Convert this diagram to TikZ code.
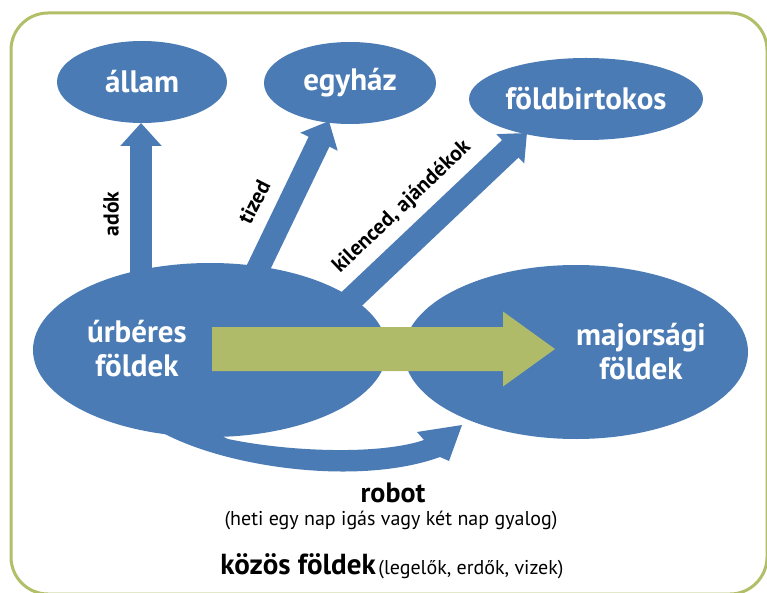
\documentclass[tikz,border=0pt]{standalone}
\usepackage{fontspec}
\setmainfont{PT Sans}
\usetikzlibrary{arrows.meta,shapes.geometric}
\definecolor{sblue}{RGB}{74,123,181}
\definecolor{solive}{RGB}{175,187,105}
\definecolor{sframe}{RGB}{178,190,104}
\begin{document}
\begin{tikzpicture}[x=1pt,y=-1pt,
  blob/.style={ellipse, fill=sblue, inner sep=0pt, inner xsep=-25pt, text=white, align=center,
    font=\bfseries\fontsize{31}{34}\selectfont},
  flow/.style={draw=sblue, line width=#1, -{Triangle[length=23pt,width=40pt]}},
  lbl/.style={font=\bfseries\fontsize{21.5}{22}\selectfont, text=black, inner sep=0pt}
]
\useasboundingbox (0,0) rectangle (767,593);
\draw[sframe, line width=3pt, rounded corners=37pt] (11,13) rectangle (767,594);
% connector end points
\coordinate (a0) at (141,290); \coordinate (a1) at (141,123);
\coordinate (t0) at (250,285); \coordinate (t1) at (329,121);
\coordinate (k0) at (340,310); \coordinate (k1) at (527,133);
% block arrows
\draw[flow=22pt] (a0) -- (a1);
\draw[flow=23pt] (t0) -- (t1);
\draw[flow=24pt, -{Triangle[length=23pt,width=39pt]}] (k0) -- (k1);
% robot arrow
\fill[sblue] (165,434) .. controls (230,468) and (360,486) .. (440,457)
  -- (449,461) -- (462,425) -- (417,432) -- (424,440)
  .. controls (380,455) and (290,452) .. (228,439) -- (200,425) -- cycle;
% ellipses
\node[blob, minimum width=170pt, minimum height=82pt] (allam) at (142,82) {állam};
\node[blob, minimum width=172pt, minimum height=82pt] (egyhaz) at (350,83) {egyház};
\node[blob, minimum width=234pt, minimum height=82pt] (fold) at (586,99) {földbirtokos};
\node[blob, minimum width=354pt, minimum height=174pt] (urb) at (210,350) {};
\node[blob, minimum width=344pt, minimum height=174pt] (maj) at (576,352) {};
\node[text=white, align=center, font=\bfseries\fontsize{31}{34}\selectfont] (urbt) at (137,349) {úrbéres\\földek};
\node[text=white, align=center, font=\bfseries\fontsize{31}{34}\selectfont] (majt) at (641,352) {majorsági\\földek};
% green arrow
\fill[solive] (212,327) -- (503,327) -- (503,311.5) -- (555,349) -- (503,386.5) -- (503,371) -- (212,371) -- cycle;
% labels
\node[lbl, rotate=90] (ado) at (111,214) {adók};
\node[lbl, rotate=63] (tiz) at (254,202) {tized};
\node[lbl, rotate=43.5] (kil) at (402,207) {kilenced, ajándékok};
\node[font=\bfseries\fontsize{28}{30}\selectfont, inner sep=0pt] (robot) at (393,493) {robot};
\node[font=\fontsize{20}{22}\selectfont, inner sep=0pt] (heti) at (391,520) {(heti egy nap igás vagy két nap gyalog)};
\node[inner sep=0pt] (kozos) at (392,566) {{\bfseries\fontsize{29}{30}\selectfont közös földek} {\fontsize{20}{22}\selectfont(legelők, erdők, vizek)}};
\end{tikzpicture}
\end{document}
